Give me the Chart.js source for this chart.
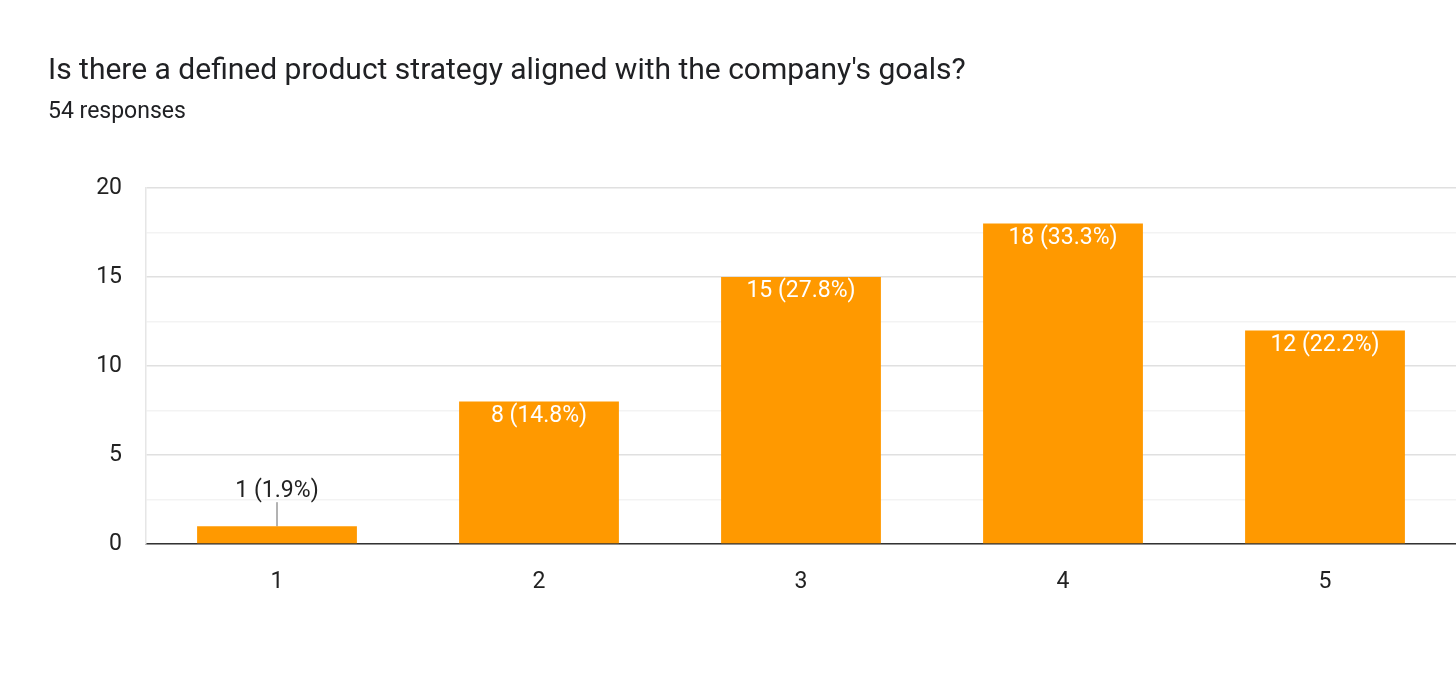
<!DOCTYPE html>
<html><head><meta charset="utf-8">
<script src="https://cdn.jsdelivr.net/npm/chart.js@4"></script>
<style>
body{margin:0;background:#fff;font-family:Roboto,Arial,sans-serif;}
#t{position:absolute;left:48px;top:51px;font-size:30px;color:#202124;}
#s{position:absolute;left:48px;top:97px;font-size:23px;color:#202124;}
#w{position:absolute;left:0;top:0;width:1456px;height:693px;}
</style></head><body>
<div id="w"><canvas id="c" width="1456" height="693"></canvas></div>
<div id="t">Is there a defined product strategy aligned with the company's goals?</div>
<div id="s">54 responses</div>
<script>
const categories=["1","2","3","4","5"];
const counts=[1,8,15,18,12];
const labels=["1 (1.9%)","8 (14.8%)","15 (27.8%)","18 (33.3%)","12 (22.2%)"];
const yTicks=[0,5,10,15,20];
const lbl={id:'lbl',afterDatasetsDraw(ch){
 const ctx=ch.ctx,meta=ch.getDatasetMeta(0);
 ctx.save();ctx.font='23px Roboto, Arial';ctx.textAlign='center';
 meta.data.forEach((b,i)=>{
  const h=b.base-b.y;
  if(h>30){ctx.fillStyle='#fff';ctx.textBaseline='top';ctx.fillText(labels[i],b.x,b.y+3);}
  else{ctx.strokeStyle='#666';ctx.lineWidth=1;ctx.beginPath();ctx.moveTo(b.x,b.y);ctx.lineTo(b.x,b.y-24);ctx.stroke();
   ctx.fillStyle='#222';ctx.textBaseline='bottom';ctx.fillText(labels[i],b.x,b.y-23);}
 });ctx.restore();}};
new Chart(document.getElementById('c'),{type:'bar',
 data:{labels:categories,datasets:[{data:counts,backgroundColor:'#ff9900',barPercentage:0.61,categoryPercentage:1}]},
 options:{responsive:false,animation:false,layout:{padding:{top:188,right:0,left:0,bottom:0}},
  plugins:{legend:{display:false},tooltip:{enabled:false}},
  scales:{
   x:{grid:{display:false},border:{color:'#333',width:1.5},ticks:{color:'#222',font:{size:23,family:'Roboto'},padding:16},
      afterFit(s){s.height=149;}},
   y:{min:yTicks[0],max:yTicks[yTicks.length-1],border:{display:true,color:'#e6e6e6',width:1.5},
      ticks:{stepSize:2.5,color:'#222',font:{size:23,family:'Roboto'},padding:24,callback:v=>yTicks.includes(v)?v:''},
      grid:{color:c=>c.tick&&yTicks.includes(c.tick.value)?'#e0e0e0':'#f3f3f3',lineWidth:1.5,drawTicks:false},
      afterFit(s){s.width=146;}}
  }},plugins:[lbl]});
</script></body></html>
